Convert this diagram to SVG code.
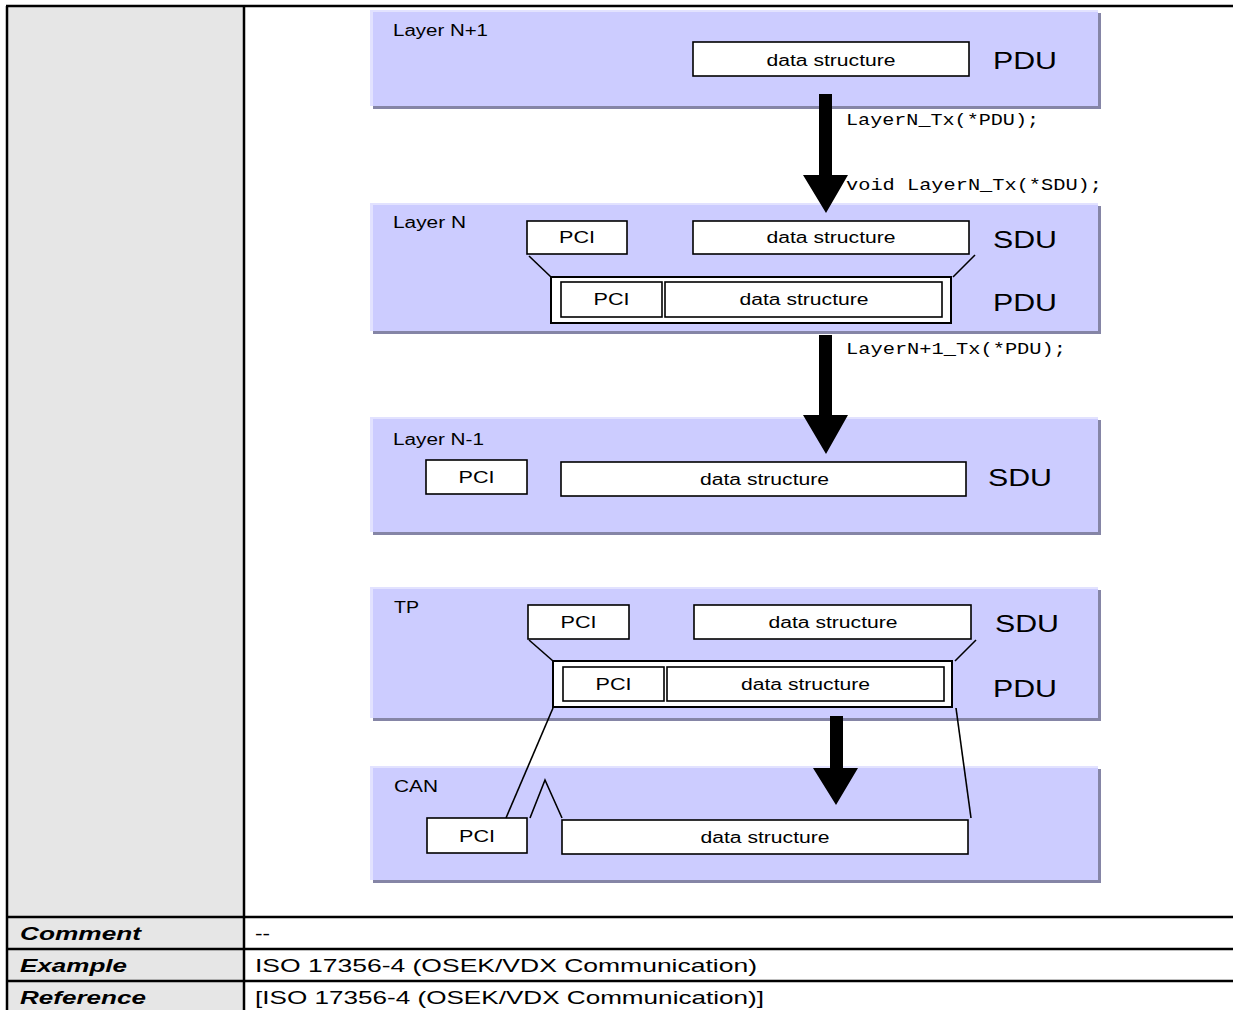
<svg xmlns="http://www.w3.org/2000/svg" width="1233" height="1010" viewBox="0 0 1233 1010">
<style>
.tbl{stroke:#000;stroke-width:2.5;fill:none}
.layer{fill:#ccccff}
.hl{fill:#e2e2ff}
.shadow{fill:#8585a6}
.box{fill:#fff;stroke:#000;stroke-width:1.6}
.obox{fill:#fff;stroke:#000;stroke-width:2}
.lbl{font-family:"Liberation Sans",Arial,sans-serif;font-size:16px;fill:#000}
.ctr{text-anchor:middle}
.big{font-family:"Liberation Sans",Arial,sans-serif;font-size:24px;fill:#000}
.code{font-family:"Liberation Mono","Courier New",monospace;font-size:16px;fill:#000}
.hdr{font-family:"Liberation Sans",Arial,sans-serif;font-size:19px;font-weight:bold;font-style:italic;fill:#000}
.cell{font-family:"Liberation Sans",Arial,sans-serif;font-size:19px;fill:#000}
.ln{stroke:#000;stroke-width:1.6;fill:none}
.arr{fill:#000}
</style>
<rect x="0" y="0" width="1233" height="1010" fill="#fff"/>
<g id="table">
<rect x="7" y="6" width="237" height="1004" fill="#e6e6e6"/>
<line class="tbl" x1="6" y1="6" x2="1233" y2="6"/>
<line class="tbl" x1="7" y1="6" x2="7" y2="1010"/>
<line class="tbl" x1="244" y1="6" x2="244" y2="1010"/>
<line class="tbl" x1="7" y1="917" x2="1233" y2="917"/>
<line class="tbl" x1="7" y1="949" x2="1233" y2="949"/>
<line class="tbl" x1="7" y1="981" x2="1233" y2="981"/>
<text class="hdr" x="20" y="940" textLength="121" lengthAdjust="spacingAndGlyphs">Comment</text>
<text class="hdr" x="20" y="972" textLength="107" lengthAdjust="spacingAndGlyphs">Example</text>
<text class="hdr" x="20" y="1004" textLength="126" lengthAdjust="spacingAndGlyphs">Reference</text>
<text class="cell" x="255" y="940" textLength="15" lengthAdjust="spacingAndGlyphs">--</text>
<text class="cell" x="255" y="972" textLength="502" lengthAdjust="spacingAndGlyphs">ISO 17356-4 (OSEK/VDX Communication)</text>
<text class="cell" x="255" y="1004" textLength="509" lengthAdjust="spacingAndGlyphs">[ISO 17356-4 (OSEK/VDX Communication)]</text>
</g>
<g id="layerN1">
<rect class="shadow" x="373" y="13" width="728" height="96"/>
<rect class="hl" x="370" y="10" width="728" height="96"/>
<rect class="layer" x="373" y="12" width="725" height="94"/>
<text class="lbl" x="393" y="36" textLength="95" lengthAdjust="spacingAndGlyphs">Layer N+1</text>
<rect class="box" x="693" y="42" width="276" height="34"/>
<text class="lbl ctr" x="831" y="66" textLength="129" lengthAdjust="spacingAndGlyphs">data structure</text>
<text class="big" x="993" y="69" textLength="64" lengthAdjust="spacingAndGlyphs">PDU</text>
</g>
<g id="layerN">
<rect class="shadow" x="373" y="206" width="728" height="128"/>
<rect class="hl" x="370" y="203" width="728" height="128"/>
<rect class="layer" x="373" y="205" width="725" height="126"/>
<text class="lbl" x="393" y="228" textLength="73" lengthAdjust="spacingAndGlyphs">Layer N</text>
<rect class="box" x="527" y="221" width="100" height="33"/>
<text class="lbl ctr" x="577" y="243" textLength="36" lengthAdjust="spacingAndGlyphs">PCI</text>
<rect class="box" x="693" y="221" width="276" height="33"/>
<text class="lbl ctr" x="831" y="243" textLength="129" lengthAdjust="spacingAndGlyphs">data structure</text>
<text class="big" x="993" y="248" textLength="64" lengthAdjust="spacingAndGlyphs">SDU</text>
<rect class="obox" x="551" y="277" width="400" height="46"/>
<rect class="box" x="561" y="282" width="101" height="35"/>
<text class="lbl ctr" x="611.5" y="305" textLength="36" lengthAdjust="spacingAndGlyphs">PCI</text>
<rect class="box" x="665" y="282" width="277" height="35"/>
<text class="lbl ctr" x="804" y="305" textLength="129" lengthAdjust="spacingAndGlyphs">data structure</text>
<text class="big" x="993" y="311" textLength="64" lengthAdjust="spacingAndGlyphs">PDU</text>
</g>
<g id="layerNm1">
<rect class="shadow" x="373" y="420" width="728" height="115"/>
<rect class="hl" x="370" y="417" width="728" height="115"/>
<rect class="layer" x="373" y="419" width="725" height="113"/>
<text class="lbl" x="393" y="445" textLength="91" lengthAdjust="spacingAndGlyphs">Layer N-1</text>
<rect class="box" x="426" y="460" width="101" height="34"/>
<text class="lbl ctr" x="476.5" y="483" textLength="36" lengthAdjust="spacingAndGlyphs">PCI</text>
<rect class="box" x="561" y="462" width="405" height="34"/>
<text class="lbl ctr" x="764.5" y="485" textLength="129" lengthAdjust="spacingAndGlyphs">data structure</text>
<text class="big" x="988" y="486" textLength="64" lengthAdjust="spacingAndGlyphs">SDU</text>
</g>
<g id="tp">
<rect class="shadow" x="373" y="590" width="728" height="131"/>
<rect class="hl" x="370" y="587" width="728" height="131"/>
<rect class="layer" x="373" y="589" width="725" height="129"/>
<text class="lbl" x="394" y="613" textLength="25" lengthAdjust="spacingAndGlyphs">TP</text>
<rect class="box" x="528" y="605" width="101" height="34"/>
<text class="lbl ctr" x="578.5" y="628" textLength="36" lengthAdjust="spacingAndGlyphs">PCI</text>
<rect class="box" x="694" y="605" width="277" height="34"/>
<text class="lbl ctr" x="833" y="628" textLength="129" lengthAdjust="spacingAndGlyphs">data structure</text>
<text class="big" x="995" y="632" textLength="64" lengthAdjust="spacingAndGlyphs">SDU</text>
<rect class="obox" x="553" y="661" width="399" height="46"/>
<rect class="box" x="563" y="667" width="101" height="34"/>
<text class="lbl ctr" x="613.5" y="690" textLength="36" lengthAdjust="spacingAndGlyphs">PCI</text>
<rect class="box" x="667" y="667" width="277" height="34"/>
<text class="lbl ctr" x="805.5" y="690" textLength="129" lengthAdjust="spacingAndGlyphs">data structure</text>
<text class="big" x="993" y="697" textLength="64" lengthAdjust="spacingAndGlyphs">PDU</text>
</g>
<g id="can">
<rect class="shadow" x="373" y="769" width="728" height="114"/>
<rect class="hl" x="370" y="766" width="728" height="114"/>
<rect class="layer" x="373" y="768" width="725" height="112"/>
<text class="lbl" x="394" y="792" textLength="44" lengthAdjust="spacingAndGlyphs">CAN</text>
<rect class="box" x="427" y="818" width="100" height="35"/>
<text class="lbl ctr" x="477" y="842" textLength="36" lengthAdjust="spacingAndGlyphs">PCI</text>
<rect class="box" x="562" y="820" width="406" height="34"/>
<text class="lbl ctr" x="765" y="843" textLength="129" lengthAdjust="spacingAndGlyphs">data structure</text>
</g>
<g id="connectors">
<path class="arr" d="M819,94 H832 V175 H848 L826,213 L803,175 H819 Z"/>
<path class="arr" d="M819,335 H832 V415 H848 L826,454 L803,415 H819 Z"/>
<path class="arr" d="M830,716 H843 V768 H858 L836,805 L813,768 H830 Z"/>
<line class="ln" x1="529" y1="256" x2="551" y2="277"/>
<line class="ln" x1="975" y1="255" x2="953" y2="277"/>
<line class="ln" x1="529" y1="640" x2="553" y2="661"/>
<line class="ln" x1="976" y1="640" x2="955" y2="661"/>
<line class="ln" x1="553" y1="708" x2="506" y2="818"/>
<line class="ln" x1="956" y1="708" x2="971" y2="818"/>
<polyline class="ln" points="530,818 545,780 562,818"/>
<text class="code" x="846" y="125" textLength="193" lengthAdjust="spacingAndGlyphs">LayerN_Tx(*PDU);</text>
<text class="code" x="846" y="190" textLength="256" lengthAdjust="spacingAndGlyphs">void LayerN_Tx(*SDU);</text>
<text class="code" x="846" y="354" textLength="220" lengthAdjust="spacingAndGlyphs">LayerN+1_Tx(*PDU);</text>
</g>
</svg>
